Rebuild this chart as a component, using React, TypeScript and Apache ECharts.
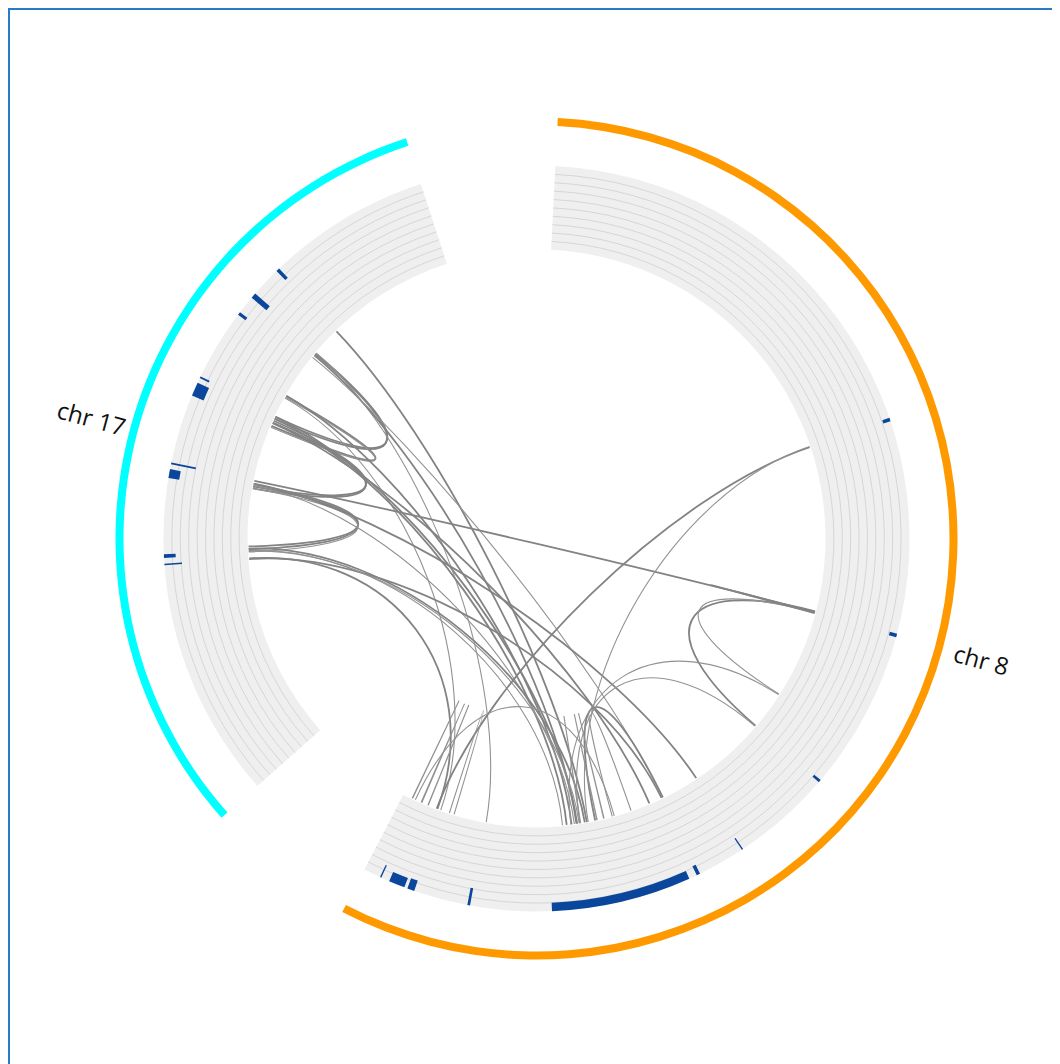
import React, { useEffect, useRef } from "react";
import * as echarts from "echarts";

// ---------- data ----------
const chromNames = ["chr 8", "chr 17"];
const chromLengths = [146.364022, 81.19521]; // Mb (hg19)
const chromColors = ["#ff9900", "#00ffff"];
const chromGap = 15; // Mb between chromosomes

// histogram track (chrom index: 0 = chr 8, 1 = chr 17), positions in Mb, value = fraction of track height
const histChrom = [1, 1, 1, 1, 1, 1, 1, 1, 1, 0, 0, 0, 0, 0, 0, 0, 0, 0, 0];
const histStart = [62.5, 58.5, 56.1, 47.95, 45.85, 37.95, 36.4, 27.6, 26.8, 48.8, 72.9, 91.2, 102.65, 108.1, 109.4, 134.05, 140.4, 141.55, 144.3];
const histEnd = [62.9, 59.1, 56.45, 48.15, 47.4, 38.15, 37.4, 28.0, 26.95, 49.2, 73.3, 91.5, 102.8, 108.5, 125.0, 134.35, 141.2, 143.35, 144.45];
const histValue = [0.15, 0.23, 0.11, 0.12, 0.15, 0.3, 0.13, 0.14, 0.21, 0.09, 0.09, 0.1, 0.16, 0.12, 0.1, 0.21, 0.13, 0.12, 0.16];

// links (chords)
const linkChromA = [1, 1, 1, 1, 1, 1, 1, 1, 1, 1, 1, 1, 1, 1, 1, 1, 1, 1, 1, 1, 1, 1, 1, 1, 1, 1, 0, 0, 0, 0, 0, 0, 0, 0, 0, 0, 0, 0, 0, 0, 0, 0, 0];
const linkPosA = [58.35, 58.2, 50.9, 50.7, 47.0, 46.7, 37.5, 37.2, 36.9, 62.65, 58.4, 58.0, 57.6, 51.0, 50.6, 47.6, 47.3, 46.6, 38.0, 37.6, 37.3, 28.3, 27.9, 26.9, 26.8, 28.0, 49.1, 49.0, 72.8, 73.0, 72.95, 85.8, 108.1, 113.0, 144.95, 143.5, 142.5, 120.4, 118.0, 117.0, 144.5, 138.6, 120.5];
const linkChromB = [1, 1, 1, 1, 1, 1, 1, 1, 1, 0, 0, 0, 0, 0, 0, 0, 0, 0, 0, 0, 0, 0, 0, 0, 0, 0, 0, 0, 0, 0, 0, 0, 0, 0, 0, 0, 0, 0, 0, 0, 0, 0, 0];
const linkPosB = [47.62, 47.3, 46.2, 46.0, 37.2, 36.9, 28.6, 28.2, 27.8, 119.5, 133.9, 121.0, 108.1, 121.7, 140.6, 120.9, 122.4, 110.2, 72.9, 102.6, 121.3, 119.8, 120.6, 141.1, 108.3, 123.0, 141.2, 119.3, 91.3, 85.7, 73.05, 121.8, 118.3, 115.8, 145.0, 143.6, 142.55, 120.45, 118.05, 117.05, 115.5, 139.3, 91.4];
const linkThick = [1, 1, 1, 0, 1, 1, 1, 1, 0, 1, 0, 1, 0, 1, 0, 1, 1, 1, 1, 1, 0, 1, 0, 1, 1, 0, 1, 0, 1, 0, 1, 0, 1, 0, 0, 0, 0, 0, 0, 0, 0, 0, 0];

// ---------- layout constants ----------
const CENTER: [number, number] = [526.5, 528.5];
const R_MAX = 421;
const IDEO_R0 = 413;
const IDEO_R1 = 421;
const TRACK_R0 = 289;
const TRACK_R1 = 373;
const ROWS = 10;
const LINK_R = 288;
const LINK_K = 0.5;
const LABEL_R = 461;
const START_ANGLE = 87.1;

const chromOffsets = chromLengths.map((_, i) =>
  chromLengths.slice(0, i).reduce((a, b) => a + b + chromGap, 0)
);
const TOTAL = chromLengths.reduce((a, b) => a + b, 0) + chromGap * chromLengths.length;

function gpos(chrom: number, pos: number) {
  return chromOffsets[chrom] + pos;
}

function angleAt(cs: any, p: number[]) {
  return Math.atan2(p[1] - cs.cy, p[0] - cs.cx);
}

function radiusAt(cs: any, p: number[]) {
  return Math.hypot(p[0] - cs.cx, p[1] - cs.cy);
}

function anglesFor(cs: any, api: any, v0: number, v1: number) {
  const a = api.coord([TRACK_R1, v0]);
  const b = api.coord([TRACK_R1, v1]);
  const sa = angleAt(cs, a);
  let ea = angleAt(cs, b);
  if (ea < sa - 1e-9) ea += Math.PI * 2;
  return [sa, ea];
}

function sectorShape(cs: any, api: any, v0: number, v1: number, r0: number, r1: number, style: any) {
  const [sa, ea] = anglesFor(cs, api, v0, v1);
  const pr0 = radiusAt(cs, api.coord([r0, v0]));
  const pr1 = radiusAt(cs, api.coord([r1, v0]));
  return {
    type: "sector",
    shape: { cx: cs.cx, cy: cs.cy, r0: pr0, r: pr1, startAngle: sa, endAngle: ea, clockwise: true },
    style,
  };
}

export default function App() {
  const ref = useRef<HTMLDivElement>(null);

  useEffect(() => {
    document.body.style.overflow = "hidden";
    if (!ref.current) return;
    const chart = echarts.init(ref.current, undefined, { renderer: "svg" });

    const trackSeries = {
      type: "custom",
      coordinateSystem: "polar",
      silent: true,
      z: 1,
      data: chromLengths.map((_, i) => [0, 0, i]),
      renderItem: (params: any, api: any) => {
        const cs = params.coordSys;
        const i = params.dataIndex;
        const v0 = gpos(i, 0);
        const v1 = gpos(i, chromLengths[i]);
        const children: any[] = [
          sectorShape(cs, api, v0, v1, TRACK_R0, TRACK_R1, { fill: "#efefef", stroke: "none" }),
        ];
        const [sa, ea] = anglesFor(cs, api, v0, v1);
        for (let k = 1; k < ROWS; k++) {
          const rr = TRACK_R0 + ((TRACK_R1 - TRACK_R0) * k) / ROWS;
          const pr = radiusAt(cs, api.coord([rr, v0]));
          children.push({
            type: "arc",
            shape: { cx: cs.cx, cy: cs.cy, r: pr, startAngle: sa, endAngle: ea, clockwise: true },
            style: { stroke: "#d3d3d3", lineWidth: 0.9, fill: "none" },
          });
        }
        return { type: "group", children };
      },
    };

    const histSeries = {
      type: "custom",
      coordinateSystem: "polar",
      silent: true,
      z: 2,
      data: histChrom.map((_, i) => [0, 0, i]),
      renderItem: (params: any, api: any) => {
        const cs = params.coordSys;
        const i = params.dataIndex;
        const v0 = gpos(histChrom[i], histStart[i]);
        const v1 = gpos(histChrom[i], histEnd[i]);
        const rIn = TRACK_R1 - histValue[i] * (TRACK_R1 - TRACK_R0);
        return sectorShape(cs, api, v0, v1, rIn, TRACK_R1, { fill: "#0a469b", stroke: "none" });
      },
    };

    const linkSeries = {
      type: "custom",
      coordinateSystem: "polar",
      silent: true,
      z: 3,
      data: linkChromA.map((_, i) => [0, 0, i]),
      renderItem: (params: any, api: any) => {
        const i = params.dataIndex;
        const va = gpos(linkChromA[i], linkPosA[i]);
        const vb = gpos(linkChromB[i], linkPosB[i]);
        const p0 = api.coord([LINK_R, va]);
        const p1 = api.coord([LINK_R, vb]);
        const c0 = api.coord([LINK_R * LINK_K, va]);
        const c1 = api.coord([LINK_R * LINK_K, vb]);
        const thick = linkThick[i] === 1;
        return {
          type: "bezierCurve",
          shape: { x1: p0[0], y1: p0[1], x2: p1[0], y2: p1[1], cpx1: c0[0], cpy1: c0[1], cpx2: c1[0], cpy2: c1[1] },
          style: { stroke: thick ? "#838383" : "#929292", lineWidth: thick ? 1.8 : 1.1, fill: "none" },
        };
      },
    };

    const ideoSeries = {
      type: "custom",
      coordinateSystem: "polar",
      silent: true,
      z: 4,
      data: chromLengths.map((_, i) => [0, 0, i]),
      renderItem: (params: any, api: any) => {
        const cs = params.coordSys;
        const i = params.dataIndex;
        const v0 = gpos(i, 0);
        const v1 = gpos(i, chromLengths[i]);
        const arc = sectorShape(cs, api, v0, v1, IDEO_R0, IDEO_R1, { fill: chromColors[i], stroke: "none" });
        const p = api.coord([LABEL_R, gpos(i, chromLengths[i] / 2)]);
        const th = Math.atan2(-(p[1] - cs.cy), p[0] - cs.cx);
        const rot = Math.cos(th) < 0 ? th + Math.PI : th;
        const label = {
          type: "text",
          x: p[0],
          y: p[1],
          rotation: rot,
          style: {
            text: chromNames[i],
            font: '24px "Open Sans", "DejaVu Sans", sans-serif',
            fill: "#111111",
            align: "center",
            verticalAlign: "middle",
          },
        };
        return { type: "group", children: [arc, label] };
      },
    };

    chart.setOption({
      animation: false,
      polar: { center: CENTER, radius: [0, R_MAX] },
      angleAxis: {
        type: "value",
        min: 0,
        max: TOTAL,
        startAngle: START_ANGLE,
        clockwise: true,
        show: false,
      },
      radiusAxis: { type: "value", min: 0, max: R_MAX, show: false },
      series: [trackSeries, histSeries, linkSeries, ideoSeries],
    });

    return () => {
      chart.dispose();
    };
  }, []);

  return (
    <div
      style={{
        width: 1100,
        height: 1100,
        border: "2px solid #2a7bc6",
        boxSizing: "border-box",
      }}
    >
      <div ref={ref} style={{ width: 1096, height: 1096 }} />
    </div>
  );
}
